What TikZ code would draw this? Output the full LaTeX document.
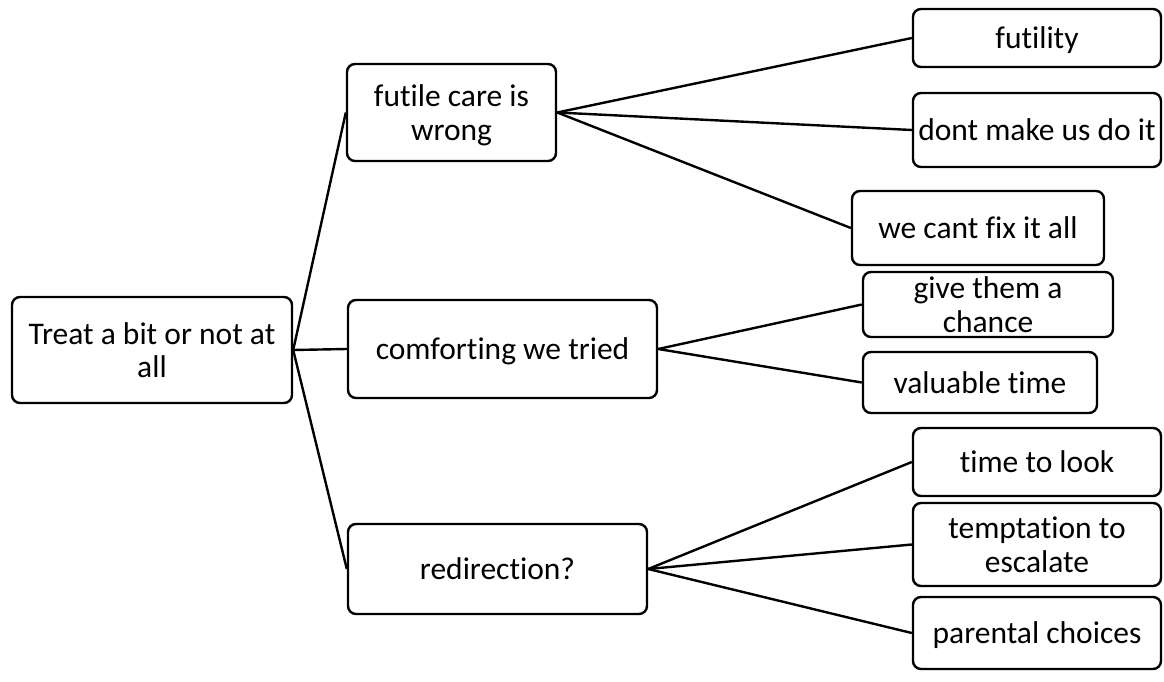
\documentclass[tikz,border=0pt]{standalone}
\usepackage{fontspec}
\setmainfont{Carlito}[Ligatures=NoCommon]
\begin{document}
\begin{tikzpicture}[x=1pt,y=-1pt,
  box/.style={draw=black, line width=2.4pt, rounded corners=8pt, align=center,
    inner sep=0pt, text depth=0pt, font=\fontsize{31.5}{33.5}\selectfont, text=black},
  link/.style={draw=black, line width=2.4pt}]
\useasboundingbox (0,0) rectangle (1164,682);
% root
\node[box, minimum width=280pt, minimum height=106pt] (root) at (152,350) {Treat a bit or not at\\all};
% middle level
\node[box, minimum width=209pt, minimum height=97pt] (m1) at (451.5,112.5) {futile care is\\wrong};
\node[box, minimum width=309pt, minimum height=98pt] (m2) at (502.5,349) {comforting we tried};
\node[box, minimum width=299pt, minimum height=90pt] (m3) at (497.5,569) {redirection?};
% leaves
\node[box, minimum width=248pt, minimum height=58pt] (l1) at (1037,38) {futility};
\node[box, minimum width=248pt, minimum height=74pt] (l2) at (1037,130) {dont make us do it};
\node[box, minimum width=252pt, minimum height=74pt] (l3) at (978,228) {we cant fix it all};
\node[box, minimum width=250pt, minimum height=65pt] (l4) at (988,304.5) {give them a\\chance};
\node[box, minimum width=234pt, minimum height=61pt] (l5) at (980,382.5) {valuable time};
\node[box, minimum width=248pt, minimum height=68pt] (l6) at (1037,462) {time to look};
\node[box, minimum width=248pt, minimum height=83pt] (l7) at (1037,544.5) {temptation to\\escalate};
\node[box, minimum width=248pt, minimum height=72pt] (l8) at (1037,633) {parental choices};
% connectors
\draw[link] (root.east) -- (m1.west);
\draw[link] (root.east) -- (m2.west);
\draw[link] (root.east) -- (m3.west);
\draw[link] (m1.east) -- (l1.west);
\draw[link] (m1.east) -- (l2.west);
\draw[link] (m1.east) -- (l3.west);
\draw[link] (m2.east) -- (l4.west);
\draw[link] (m2.east) -- (l5.west);
\draw[link] (m3.east) -- (l6.west);
\draw[link] (m3.east) -- (l7.west);
\draw[link] (m3.east) -- (l8.west);
\end{tikzpicture}
\end{document}
